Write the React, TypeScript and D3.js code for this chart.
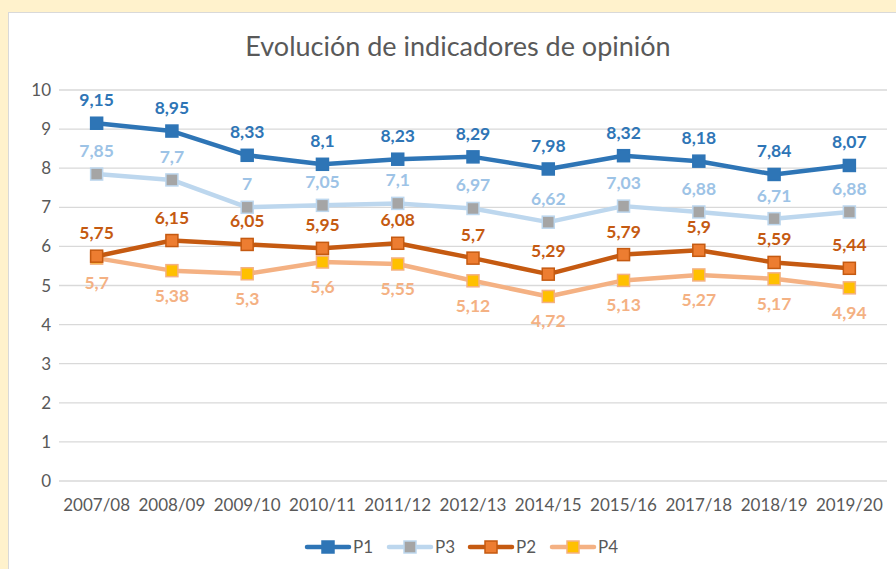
import React from "react";
import * as d3 from "d3";

const categories = ["2007/08","2008/09","2009/10","2010/11","2011/12","2012/13","2014/15","2015/16","2017/18","2018/19","2019/20"];
const p1 = [9.15, 8.95, 8.33, 8.1, 8.23, 8.29, 7.98, 8.32, 8.18, 7.84, 8.07];
const p3 = [7.85, 7.7, 7.0, 7.05, 7.1, 6.97, 6.62, 7.03, 6.88, 6.71, 6.88];
const p2 = [5.75, 6.15, 6.05, 5.95, 6.08, 5.7, 5.29, 5.79, 5.9, 5.59, 5.44];
const p4 = [5.7, 5.38, 5.3, 5.6, 5.55, 5.12, 4.72, 5.13, 5.27, 5.17, 4.94];
const yTicks = [0,1,2,3,4,5,6,7,8,9,10];

const W = 896, H = 569;
const left = 59, right = 887, top = 90, bottom = 481;
const font = "Lato, 'Open Sans', sans-serif";

const series = [
  { name: "P1", values: p1, line: "#2E75B6", fill: "#2E75B6", stroke: "#2E75B6", label: "#2E75B6", dy: -23 },
  { name: "P3", values: p3, line: "#BDD7EE", fill: "#A5A5A5", stroke: "#BDD7EE", label: "#9DC3E6", dy: -23 },
  { name: "P2", values: p2, line: "#C55A11", fill: "#ED7D31", stroke: "#C55A11", label: "#C55A11", dy: -23 },
  { name: "P4", values: p4, line: "#F4B183", fill: "#FFC000", stroke: "#F4B183", label: "#F4B183", dy: 25 },
];
const drawOrder = [3, 2, 1, 0];
const fmt = (v: number) => String(v).replace(".", ",");

export default function App() {
  const x = d3.scaleBand<string>().domain(categories).range([left, right]);
  const y = d3.scaleLinear().domain([0, 10]).range([bottom, top]);
  const cx = (c: string) => (x(c) as number) + x.bandwidth() / 2;
  const lineGen = d3.line<number>().x((_, i) => cx(categories[i])).y(v => y(v));
  const legendX = [307, 389, 470, 552];
  return (
    <svg width={W} height={H} style={{ position: "absolute", left: 0, top: 0 }} fontFamily={font}>
      <rect x={0} y={0} width={W} height={H} fill="#FFF2CC" />
      <rect x={8.5} y={12.5} width={W} height={H} fill="#FFFFFF" stroke="#D9D9D9" />
      <text x={458} y={56} textAnchor="middle" fontSize={27} fill="#595959">Evolución de indicadores de opinión</text>
      {yTicks.map(t => (
        <g key={t}>
          <line x1={left} x2={right} y1={y(t)} y2={y(t)} stroke="#D9D9D9" strokeWidth={1.3} />
          <text x={left - 8} y={y(t) + 6} textAnchor="end" fontSize={17} fill="#595959">{t}</text>
        </g>
      ))}
      {categories.map(c => (
        <text key={c} x={cx(c)} y={511} textAnchor="middle" fontSize={17} fill="#595959">{c}</text>
      ))}
      {drawOrder.map(si => {
        const s = series[si];
        return (
          <g key={s.name}>
            <path d={lineGen(s.values) || ""} fill="none" stroke={s.line} strokeWidth={4.5} strokeLinejoin="round" />
            {s.values.map((v, i) => (
              <rect key={i} x={cx(categories[i]) - 6} y={y(v) - 6} width={12} height={12} fill={s.fill} stroke={s.stroke} strokeWidth={1.5} />
            ))}
          </g>
        );
      })}
      {series.map(s => (
        <g key={s.name + "l"}>
          {s.values.map((v, i) => (
            <text key={i} x={cx(categories[i])} y={y(v) + s.dy + 6} textAnchor="middle" fontSize={17.5} fontWeight="bold" fill={s.label}>{fmt(v)}</text>
          ))}
        </g>
      ))}
      {series.map((s, i) => (
        <g key={s.name + "g"} transform={`translate(${legendX[i]},547)`}>
          <line x1={0} x2={42} y1={0} y2={0} stroke={s.line} strokeWidth={4.5} strokeLinecap="round" />
          <rect x={15} y={-6} width={12} height={12} fill={s.fill} stroke={s.stroke} strokeWidth={1.5} />
          <text x={46} y={6} fontSize={17} fill="#595959">{s.name}</text>
        </g>
      ))}
    </svg>
  );
}
